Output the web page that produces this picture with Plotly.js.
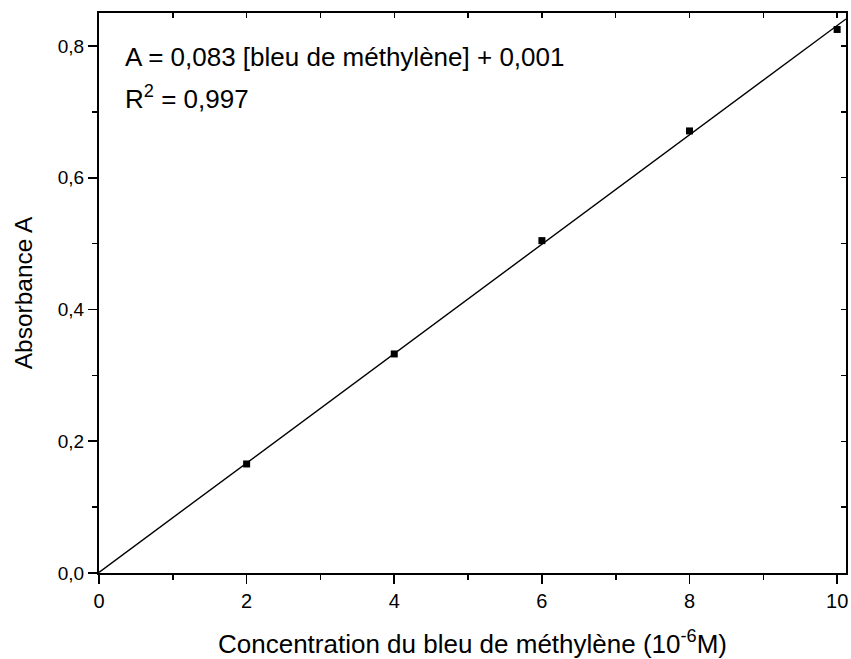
<!DOCTYPE html>
<html>
<head>
<meta charset="utf-8">
<script src="https://cdn.plot.ly/plotly-3.0.1.min.js"></script>
<style>
  html, body { margin: 0; padding: 0; background: #fff; }
  #chart { width: 851px; height: 659px; }
</style>
</head>
<body>
<div id="chart"></div>
<script>
// Calibration measurements: methylene blue concentration (10^-6 M) vs absorbance
const concentration = [2, 4, 6, 8, 10];
const absorbance = [0.1655, 0.3325, 0.5045, 0.671, 0.825];

// Linear fit reported on the chart: A = 0,083 [bleu de méthylène] + 0,001
const fitSlope = 0.083;
const fitIntercept = 0.001;
const fitX = [0, 10.12];
const fitY = fitX.map(x => fitSlope * x + fitIntercept);

const xRange = [0, 10.12];
const yRange = [0, 0.85];

const fontFamily = '"Liberation Sans", Arial, sans-serif';

const traces = [
  {
    x: fitX, y: fitY,
    type: 'scatter', mode: 'lines',
    line: { color: '#000', width: 1.4 },
    hoverinfo: 'skip', showlegend: false
  },
  {
    x: concentration, y: absorbance,
    type: 'scatter', mode: 'markers',
    marker: { symbol: 'square', size: 7, color: '#000' },
    showlegend: false
  },
  // carrier for the mirrored top/right tick axes
  {
    x: concentration, y: absorbance,
    xaxis: 'x2', yaxis: 'y2',
    type: 'scatter', mode: 'markers',
    marker: { opacity: 0 }, hoverinfo: 'skip', showlegend: false
  }
];

const layout = {
  width: 851, height: 659,
  paper_bgcolor: '#fff', plot_bgcolor: '#fff',
  separators: ', ',
  font: { family: fontFamily, color: '#000', size: 19 },
  margin: { l: 99, r: 5, t: 13, b: 86, autoexpand: false },
  showlegend: false,
  xaxis: {
    range: xRange, tickmode: 'linear', tick0: 0, dtick: 2,
    ticks: 'outside', ticklen: 9, tickwidth: 1.6, tickcolor: '#000',
    minor: { dtick: 1, tick0: 0, ticks: 'outside', ticklen: 5, tickwidth: 1.6, tickcolor: '#000' },
    showline: true, linecolor: '#000', linewidth: 2, mirror: true,
    showgrid: false, zeroline: false, automargin: true,
    tickfont: { size: 20 },
    title: { text: 'Concentration du bleu de méthylène (10<sup>-6</sup>M)', font: { size: 26 }, standoff: 30 }
  },
  yaxis: {
    range: yRange, tickmode: 'linear', tick0: 0, dtick: 0.2, tickformat: '.1f',
    ticks: 'outside', ticklen: 9, tickwidth: 1.6, tickcolor: '#000',
    minor: { dtick: 0.1, tick0: 0, ticks: 'outside', ticklen: 5, tickwidth: 1.6, tickcolor: '#000' },
    showline: true, linecolor: '#000', linewidth: 2, mirror: true,
    showgrid: false, zeroline: false,
    tickfont: { size: 19 },
    title: { text: 'Absorbance A', font: { size: 24.5 }, standoff: 18 }
  },
  xaxis2: {
    overlaying: 'x', side: 'top', matches: 'x', range: xRange,
    tickmode: 'linear', tick0: 0, dtick: 1,
    ticks: 'inside', ticklen: 5, tickwidth: 1.4, tickcolor: '#000',
    showticklabels: false, showline: false, showgrid: false, zeroline: false
  },
  yaxis2: {
    overlaying: 'y', side: 'right', matches: 'y', range: yRange,
    tickmode: 'linear', tick0: 0, dtick: 0.1,
    ticks: 'inside', ticklen: 5, tickwidth: 1.4, tickcolor: '#000',
    showticklabels: false, showline: false, showgrid: false, zeroline: false
  },
  annotations: [
    {
      xref: 'paper', yref: 'paper', x: 0.032, y: 0.921,
      xanchor: 'left', yanchor: 'middle', showarrow: false,
      text: 'A = 0,083 [bleu de méthylène] + 0,001',
      font: { size: 26 }
    },
    {
      xref: 'paper', yref: 'paper', x: 0.032, y: 0.850,
      xanchor: 'left', yanchor: 'middle', showarrow: false,
      text: 'R<sup>2</sup> = 0,997',
      font: { size: 26 }
    }
  ]
};

Plotly.newPlot('chart', traces, layout, { staticPlot: true, displayModeBar: false });
</script>
</body>
</html>
